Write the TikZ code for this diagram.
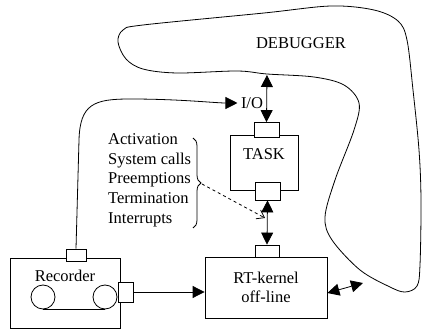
\documentclass[tikz,border=0pt]{standalone}
\usepackage{fontspec}
\setmainfont{Liberation Serif}
\usetikzlibrary{arrows.meta,decorations.pathreplacing}
\tikzset{
  box/.style={draw,line width=0.8pt,inner sep=0pt},
  port/.style={draw,line width=0.8pt,fill=white,inner sep=0pt},
  reel/.style={draw,line width=0.8pt,circle,inner sep=0pt,minimum size=24pt},
  link/.style={line width=0.8pt}
}
\begin{document}
\begin{tikzpicture}[x=1pt,y=-1pt,font=\fontsize{16.5}{19.7}\selectfont,
  >={Triangle[length=12pt,width=12pt]}]
			\useasboundingbox (0,0) rectangle (424,329);
			\draw[link] plot[smooth cycle,tension=0.55] coordinates {(237,71) (267,74) (314,77) (344,85) (359,103) (354,130) (335,180) (325,217) (332,240) (360,270) (390,287) (405,292) (417,286) (420,265) (421,200) (419,150) (413,90) (407,40) (398,21) (374,10) (331,6) (264,13) (143,25) (123,30) (118,42) (126,59) (143,69) (177,73)};
			\node (debugger) at (301,43) {DEBUGGER};
			\coordinate (dbgbottom) at (267,75);
			\coordinate (dbgfoot) at (363,283);
			\node[box,minimum width=68pt,minimum height=55pt] (task) at (264,162.5) {};
			\node (tasklabel) at (264,154) {TASK};
			\node[port,minimum width=25pt,minimum height=15pt] (taskin) at (266.5,130) {};
			\node[port,minimum width=25pt,minimum height=18pt] (taskout) at (267.5,191) {};
			\node[box,minimum width=122pt,minimum height=61pt,align=center] (kernel) at (266,287.5) {RT-kernel\\off-line};
			\node[port,minimum width=24pt,minimum height=12pt] (kernelin) at (267,251) {};
			\node[box,minimum width=110pt,minimum height=70pt] (recorder) at (65,293) {};
			\node (reclabel) at (65,276) {Recorder};
			\node[reel] (reelL) at (43,297) {};
			\node[reel] (reelR) at (105,297) {};
			\node[port,minimum width=20pt,minimum height=12pt] (recup) at (76,255) {};
			\node[port,minimum width=15pt,minimum height=20pt] (recout) at (125.5,292) {};
			\node (io) at (252,103) {I/O};
			\node[align=left,anchor=west,inner sep=0pt] (events) at (108,180) {Activation\\System calls\\Preemptions\\Termination\\Interrupts};
			\coordinate (bracetip) at (202,184);
			\coordinate (dashend) at (265,218);
			\draw[link] (reelL.south) -- (reelR.south);
			\draw[link,<->] (dbgbottom) -- (taskin.north);
			\draw[link,<->] (taskout.south) -- (kernelin.north);
			\draw[link,->] (recout.east) -- (kernel.west |- recout.east);
			\draw[link,<->] ([yshift=-5.5pt]kernel.east) -- (dbgfoot);
			\draw[link,->] (recup.north) -- (79,140) .. controls (80,104) and (94,99) .. (130,99) .. controls (180,99) and (215,103) .. (io.west);
			\draw[link,decorate,decoration={brace,amplitude=8pt}] (193,138) -- (193,228);
			\draw[link,dashed,-{Straight Barb[length=7pt,width=10pt]}] (bracetip) -- (dashend);
\end{tikzpicture}
\end{document}
